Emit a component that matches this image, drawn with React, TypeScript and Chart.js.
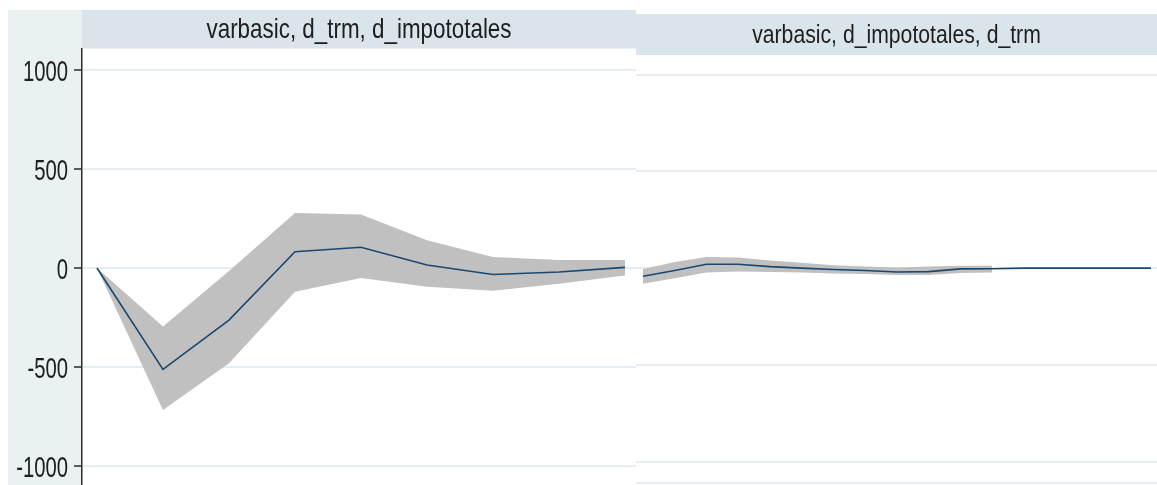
import React, { useEffect, useRef } from 'react';
import { Chart, registerables } from 'chart.js';

Chart.register(...registerables);

// ---- data ----
const leftTitle = 'varbasic, d_trm, d_impototales';
const rightTitle = 'varbasic, d_impototales, d_trm';
const yTickValues = [-1000, -500, 0, 500, 1000];

const leftSteps = [0, 1, 2, 3, 4, 5, 6, 7, 8];
const leftIrf = [0, -512, -263, 82, 105, 15, -33, -20, 3];
const leftUpper = [0, -296, -15, 278, 270, 140, 55, 40, 40];
const leftLower = [0, -717, -481, -120, -50, -95, -115, -80, -38];

const rightSteps = [0, 1, 2, 3, 4, 5, 6, 7, 8, 9, 10, 11, 12, 13, 14, 15, 16];
const rightIrf = [-42, -12, 20, 20, 8, 0, -7, -12, -20, -18, -4, -3, 0, 0, 0, 0, 0];
const rightBandSteps = [0, 1, 2, 3, 4, 5, 6, 7, 8, 9, 10, 11];
const rightUpper = [-5, 32, 58, 55, 40, 28, 15, 8, 3, 8, 12, 12];
const rightLower = [-80, -52, -22, -17, -20, -22, -28, -30, -35, -35, -25, -22];

// ---- styles ----
const FONT = "'Liberation Sans', Arial, sans-serif";
const LINE = '#1a476f';
const BAND = '#c0c0c0';
const GRID = '#e5edf1';
const HEADER = '#d9e5eb';
const MARGIN = '#e9f1f3';
const TEXT = '#1e1e1e';

const pts = (xs: number[], ys: number[]) => xs.map((x, i) => ({ x, y: ys[i] }));

const panelPlugin = {
  id: 'panelBg',
  beforeDraw(chart: any, _args: any, opts: any) {
    const { ctx, chartArea, width, height } = chart;
    ctx.save();
    ctx.fillStyle = opts.outerBg;
    ctx.fillRect(0, 0, width, height);
    ctx.fillStyle = '#ffffff';
    ctx.fillRect(chartArea.left, chartArea.top, chartArea.right - chartArea.left, chartArea.bottom - chartArea.top);
    ctx.fillStyle = HEADER;
    ctx.fillRect(chartArea.left, 0, chartArea.right - chartArea.left, chartArea.top - 1);
    ctx.font = `${opts.fontSize}px ${FONT}`;
    ctx.fillStyle = TEXT;
    ctx.textAlign = 'center';
    ctx.textBaseline = 'alphabetic';
    const cx = chartArea.left + opts.centerFrac * (chartArea.right - chartArea.left);
    ctx.translate(cx, opts.baseline);
    ctx.scale(opts.sx, 1);
    ctx.fillText(opts.text, 0, 0);
    ctx.restore();
  },
  afterDraw(chart: any, _args: any, opts: any) {
    if (!opts.tickLabels) return;
    const { ctx, chartArea } = chart;
    const yScale = chart.scales.y;
    ctx.save();
    ctx.font = `${opts.tickFontSize}px ${FONT}`;
    ctx.fillStyle = TEXT;
    ctx.textAlign = 'right';
    ctx.textBaseline = 'alphabetic';
    for (const t of yScale.ticks) {
      const y = yScale.getPixelForValue(t.value);
      ctx.save();
      ctx.translate(chartArea.left - 14, y + opts.tickFontSize * 0.358);
      ctx.scale(opts.tickSx, 1);
      ctx.fillText(String(t.value), 0, 0);
      ctx.restore();
    }
    ctx.restore();
  },
};

function makeConfig(side: 'left' | 'right'): any {
  const isLeft = side === 'left';
  const irf = isLeft ? pts(leftSteps, leftIrf) : pts(rightSteps, rightIrf);
  const up = isLeft ? pts(leftSteps, leftUpper) : pts(rightBandSteps, rightUpper);
  const lo = isLeft ? pts(leftSteps, leftLower) : pts(rightBandSteps, rightLower);
  return {
    type: 'line',
    data: {
      datasets: [
        { data: irf, borderColor: LINE, borderWidth: 1.6, pointRadius: 0, fill: false, tension: 0 },
        { data: up, borderWidth: 0, borderColor: BAND, backgroundColor: BAND, pointRadius: 0, fill: '+1', tension: 0 },
        { data: lo, borderWidth: 0, borderColor: BAND, backgroundColor: BAND, pointRadius: 0, fill: false, tension: 0 },
      ],
    },
    options: {
      animation: false,
      responsive: false,
      maintainAspectRatio: false,
      layout: { padding: { top: isLeft ? 39 : 42, bottom: isLeft ? 0 : 2, left: 0, right: 0 } },
      plugins: {
        legend: { display: false },
        tooltip: { enabled: false },
        panelBg: isLeft
          ? { outerBg: MARGIN, text: leftTitle, fontSize: 28, sx: 0.8, centerFrac: 0.5, baseline: 28, tickLabels: true, tickFontSize: 30, tickSx: 0.675 }
          : { outerBg: '#ffffff', text: rightTitle, fontSize: 26.5, sx: 0.8, centerFrac: 0.5, baseline: 28.7, tickLabels: false },
      },
      scales: {
        x: isLeft
          ? { type: 'linear', display: false, min: -0.227, max: 8.167 }
          : {
              type: 'linear',
              display: true,
              min: -0.22,
              max: 16.19,
              ticks: { display: false },
              grid: { display: false, drawTicks: false },
              border: { display: true, color: GRID, width: 2 },
              afterFit: (s: any) => {
                s.height = 0;
                s.paddingLeft = 0;
                s.paddingRight = 0;
              },
            },
        y: {
          type: 'linear',
          min: isLeft ? -1096 : -1110,
          max: isLeft ? 1106 : 1096,
          afterBuildTicks: (s: any) => {
            s.ticks = yTickValues.map((v) => ({ value: v }));
          },
          afterFit: (s: any) => {
            s.width = isLeft ? 74 : 0;
            s.paddingTop = 0;
            s.paddingBottom = 0;
          },
          ticks: { display: false },
          grid: {
            color: GRID,
            lineWidth: 2,
            drawTicks: isLeft,
            tickColor: '#2a2a2a',
            tickLength: 8,
            tickWidth: 1.5,
          },
          border: { display: isLeft, color: '#2a2a2a', width: 1.5 },
        },
      },
    },
    plugins: [panelPlugin],
  };
}

function Panel({ side, style }: { side: 'left' | 'right'; style: React.CSSProperties }) {
  const ref = useRef<HTMLCanvasElement>(null);
  useEffect(() => {
    if (!ref.current) return;
    const chart = new Chart(ref.current, makeConfig(side));
    return () => chart.destroy();
  }, [side]);
  const w = style.width as number;
  const h = style.height as number;
  return <canvas ref={ref} width={w} height={h} style={{ position: 'absolute', ...style }} />;
}

export default function App() {
  return (
    <div style={{ position: 'fixed', left: 0, top: 0, width: 1157, height: 485, background: '#ffffff', overflow: 'hidden' }}>
      <Panel side="left" style={{ left: 8, top: 10, width: 628, height: 475 }} />
      <Panel side="right" style={{ left: 636, top: 14, width: 521, height: 471 }} />
    </div>
  );
}
